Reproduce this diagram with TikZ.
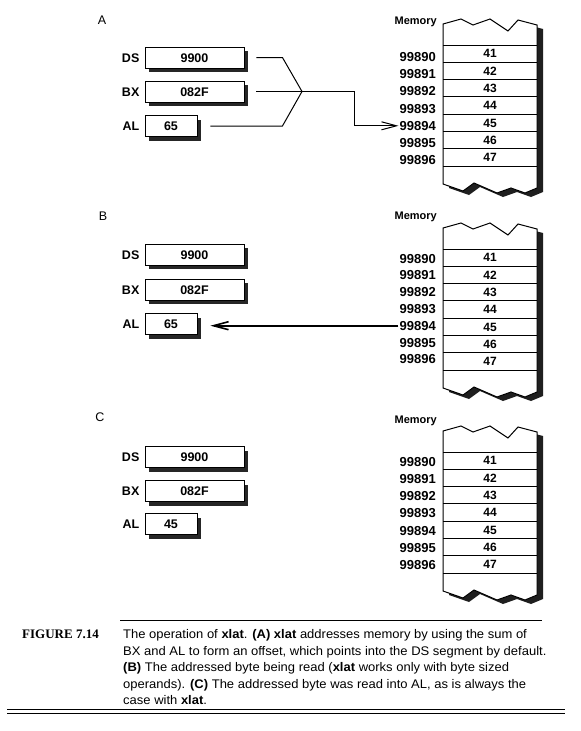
\documentclass[tikz,border=0pt]{standalone}
\usepackage{fontspec}
\setmainfont{Liberation Sans}
\newfontfamily\capserif{Liberation Serif}
\newfontfamily\capsans[FakeStretch=1.04]{Liberation Sans}
\usetikzlibrary{arrows.meta,shadows,calc}
\tikzset{
  reg/.style={draw=black, line width=0.9pt, fill=white, minimum height=21pt, inner sep=0pt,
    font=\fontsize{12.5}{14}\selectfont\bfseries, text height=9pt, text depth=0pt,
    drop shadow={shadow xshift=4pt, shadow yshift=-4pt, fill=black!85, opacity=1}},
  reglab/.style={inner sep=0pt, font=\fontsize{12.5}{14}\selectfont\bfseries, text height=9pt, text depth=0pt},
  val/.style={inner sep=0pt, font=\fontsize{12}{14}\selectfont\bfseries, text height=8.5pt, text depth=0pt},
  addr/.style={inner sep=1pt, anchor=east, font=\fontsize{13}{15}\selectfont\bfseries, text height=9pt, text depth=0pt},
  memlab/.style={inner sep=0pt, anchor=east, font=\fontsize{11}{13}\selectfont\bfseries, text height=8pt, text depth=0pt},
  panel/.style={inner sep=0pt, font=\fontsize{12.5}{14}\selectfont, text height=9pt, text depth=0pt},
  conn/.style={draw=black, line width=1pt},
  arr/.style={-{Straight Barb[length=15pt,width=8pt]}},
  captext/.style={inner sep=0pt, anchor=base west, font=\fontsize{12.5}{14}\selectfont\capsans},
}
\newcommand\memoutline{(0,-21) -- (18,-26) -- (30,-20) -- (47,-26) -- (65,-14) -- (75,-25) -- (94,-20) -- (94,143) -- (82,148) -- (68,143) -- (54,148) -- (31,138) -- (20,146) -- (0,139) -- cycle}
% #1 prefix, #2 rowtop, #3 label y, #4 first address y, #5 address spacing
\newcommand\memblock[5]{%
  \begin{scope}[shift={(443,#2)}]
    \fill[black!88, shift={(6,4)}] \memoutline;
    \filldraw[fill=white, draw=black, line width=1pt] \memoutline;
    \foreach \k in {0,1,2,3,4,5,6,7} \draw[line width=0.9pt] (0,\k*17.3) -- (94,\k*17.3);
    \foreach \v [count=\i from 0] in {41,42,43,44,45,46,47}
      \node[val] (#1v\v) at (47,\i*17.3+8.65) {\v};
    \foreach \a [count=\i from 0] in {99890,99891,99892,99893,99894,99895,99896}
      \node[addr] (#1a\a) at (-6,{#4-#2+\i*#5}) {\a};
    \node[memlab] (#1mem) at (-6,{#3-#2}) {Memory};
  \end{scope}}
% #1 prefix, #2,#3,#4 y of DS, BX, AL, #5 AL value
\newcommand\regset[5]{%
  \node[reg, minimum width=99pt] (#1ds) at (194.5,#2) {9900};
  \node[reg, minimum width=99pt] (#1bx) at (194.5,#3) {082F};
  \node[reg, minimum width=52pt] (#1al) at (171,#4) {#5};
  \node[reglab, anchor=east] (#1dsl) at ([xshift=-5pt]#1ds.west) {DS};
  \node[reglab, anchor=east] (#1bxl) at ([xshift=-5pt]#1bx.west) {BX};
  \node[reglab, anchor=east] (#1all) at ([xshift=-5pt]#1al.west) {AL};}
\begin{document}
\begin{tikzpicture}[x=1pt, y=-1pt]
  \useasboundingbox (0,0) rectangle (581,731);
  \fill[white] (0,0) rectangle (581,731);

  % Panel A
  \node[panel] (pA) at (102,20) {A};
  \memblock{A}{45}{20}{57}{17.2}
  \regset{A}{57.5}{91.5}{126}{65}
  \coordinate (Aj) at (302,91.5);
  \draw[conn] ([xshift=12pt]Ads.east) -- ++(26,0) -- (Aj);
  \draw[conn] ([xshift=13pt]Aal.east) -- ++(72,0) -- (Aj);
  \draw[conn, arr] ([xshift=12pt]Abx.east) -- ++(98,0) |- (Aa99894.west);

  % Panel B
  \node[panel] (pB) at (103,216) {B};
  \memblock{B}{249}{215}{258.5}{16.8}
  \regset{B}{254.5}{289.5}{324}{65}
  \draw[conn, line width=1.6pt, arr, shorten >=13pt] (Ba99894.west) -- (Ba99894.west -| Bal.east);

  % Panel C
  \node[panel] (pC) at (100,417) {C};
  \memblock{C}{452}{419}{461.5}{17.25}
  \regset{C}{457}{491}{524}{45}

  % Caption
  \draw[line width=1pt] (120,620) -- (542,620);
  \node[inner sep=0pt, anchor=base west, font=\fontsize{13}{15}\selectfont\capserif\bfseries] (fig) at (22,638.5) {FIGURE 7.14};
  \node[captext] (c1) at (123,638.5) {The operation of \textbf{xlat}. \textbf{(A) xlat} addresses memory by using the sum of};
  \node[captext] (c2) at (123,655) {BX and AL to form an offset, which points into the DS segment by default.};
  \node[captext] (c3) at (123,671.5) {\textbf{(B)} The addressed byte being read (\textbf{xlat} works only with byte sized};
  \node[captext] (c4) at (123,688) {operands). \textbf{(C)} The addressed byte was read into AL, as is always the};
  \node[captext] (c5) at (123,704.5) {case with \textbf{xlat}.};
  \draw[line width=1pt] (7,709.5) -- (565,709.5);
  \draw[line width=1pt] (7,713.5) -- (565,713.5);
\end{tikzpicture}
\end{document}
